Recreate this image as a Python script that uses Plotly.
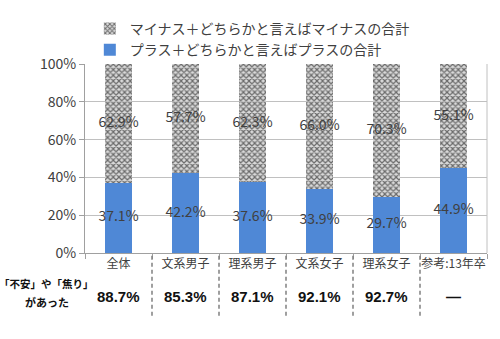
import plotly.graph_objects as go

# Survey groups and stacked shares (%)
categories = ["全体", "文系男子", "理系男子", "文系女子", "理系女子", "参考:13年卒"]
plus_share = [37.1, 42.2, 37.6, 33.9, 29.7, 44.9]
minus_share = [62.9, 57.7, 62.3, 66.0, 70.3, 55.1]
anxiety_rate = ["88.7%", "85.3%", "87.1%", "92.1%", "92.7%", "—"]
y_ticks = [0, 20, 40, 60, 80, 100]

plus_name = "プラス＋どちらかと言えばプラスの合計"
minus_name = "マイナス＋どちらかと言えばマイナスの合計"

BLUE = "#4f88d6"
TXT = "#404040"
JP = "Noto Sans CJK JP"

fig = go.Figure()

fig.add_bar(
    x=categories, y=plus_share, name=plus_name,
    marker=dict(color=BLUE, line=dict(width=0)),
)
fig.add_bar(
    x=categories, y=minus_share, name=minus_name,
    marker=dict(
        color="#a8a8a8",
        line=dict(width=0),
        pattern=dict(shape="x", fgcolor="#6a6a6a", bgcolor="#dadada",
                     size=4, solidity=0.5, fillmode="replace"),
    ),
)

# Value labels centred in each segment
plus_mid = [p / 2 for p in plus_share]
minus_mid = [p + m / 2 for p, m in zip(plus_share, minus_share)]
fig.add_scatter(
    x=categories, y=plus_mid, mode="text",
    text=[f"{v:.1f}%" for v in plus_share],
    textfont=dict(family=JP, size=14, color=TXT),
    showlegend=False, hoverinfo="skip",
)
fig.add_scatter(
    x=categories, y=minus_mid, mode="text",
    text=[f"{v:.1f}%" for v in minus_share],
    textfont=dict(family=JP, size=14, color=TXT),
    showlegend=False, hoverinfo="skip",
)

# Row of "anxiety" rates under the category labels
for cat, rate in zip(categories, anxiety_rate):
    fig.add_annotation(
        x=cat, xref="x", y=-0.228, yref="paper", text=f"<b>{rate}</b>",
        showarrow=False,
        font=dict(family="Liberation Sans", size=15, color="#111111"),
        xanchor="center", yanchor="middle",
    )
fig.add_annotation(
    x=-0.095, xref="paper", y=-0.159, yref="paper", text="<b>「不安」や「焦り」</b>",
    showarrow=False, font=dict(family=JP, size=10.5, color="#111111"),
    xanchor="center", yanchor="middle",
)
fig.add_annotation(
    x=-0.095, xref="paper", y=-0.259, yref="paper", text="<b>があった</b>",
    showarrow=False, font=dict(family=JP, size=11, color="#111111"),
    xanchor="center", yanchor="middle",
)

# Dashed separators between groups
for i in range(1, len(categories)):
    fig.add_shape(
        type="line", xref="x", yref="paper", x0=i - 0.5, x1=i - 0.5,
        y0=-0.015, y1=-0.345,
        line=dict(color="#808080", width=1.5, dash="4px,3px"),
    )
# Right border of the plot area
fig.add_shape(
    type="line", xref="paper", yref="paper", x0=1, x1=1, y0=0, y1=1,
    line=dict(color="#c0c0c0", width=1),
)

fig.update_layout(
    width=500, height=339,
    margin=dict(l=85, r=13, t=64, b=86),
    paper_bgcolor="white", plot_bgcolor="white",
    barmode="stack", bargap=0.6,
    font=dict(family=JP, color=TXT),
    legend=dict(
        x=0.012, y=1.27, xanchor="left", yanchor="top",
        traceorder="reversed", orientation="v",
        font=dict(family=JP, size=14, color=TXT),
        itemwidth=30, bgcolor="rgba(0,0,0,0)", tracegroupgap=0,
    ),
    xaxis=dict(
        showline=True, linecolor="#a0a0a0", linewidth=1,
        ticks="outside", tickson="boundaries", ticklen=5, tickcolor="#a0a0a0",
        tickfont=dict(family=JP, size=12, color=TXT), tickangle=0,
        showgrid=False, automargin=False,
    ),
    yaxis=dict(
        range=[0, 100], tickmode="array", tickvals=y_ticks,
        ticktext=[f"{v}%" for v in y_ticks],
        showline=True, linecolor="#a0a0a0", linewidth=1,
        ticks="outside", ticklen=5, tickcolor="#a0a0a0",
        showgrid=True, gridcolor="#c0c0c0", gridwidth=1,
        tickfont=dict(family=JP, size=14, color=TXT),
        zeroline=False, automargin=False,
    ),
    showlegend=True,
)

fig.write_html("out.html")
